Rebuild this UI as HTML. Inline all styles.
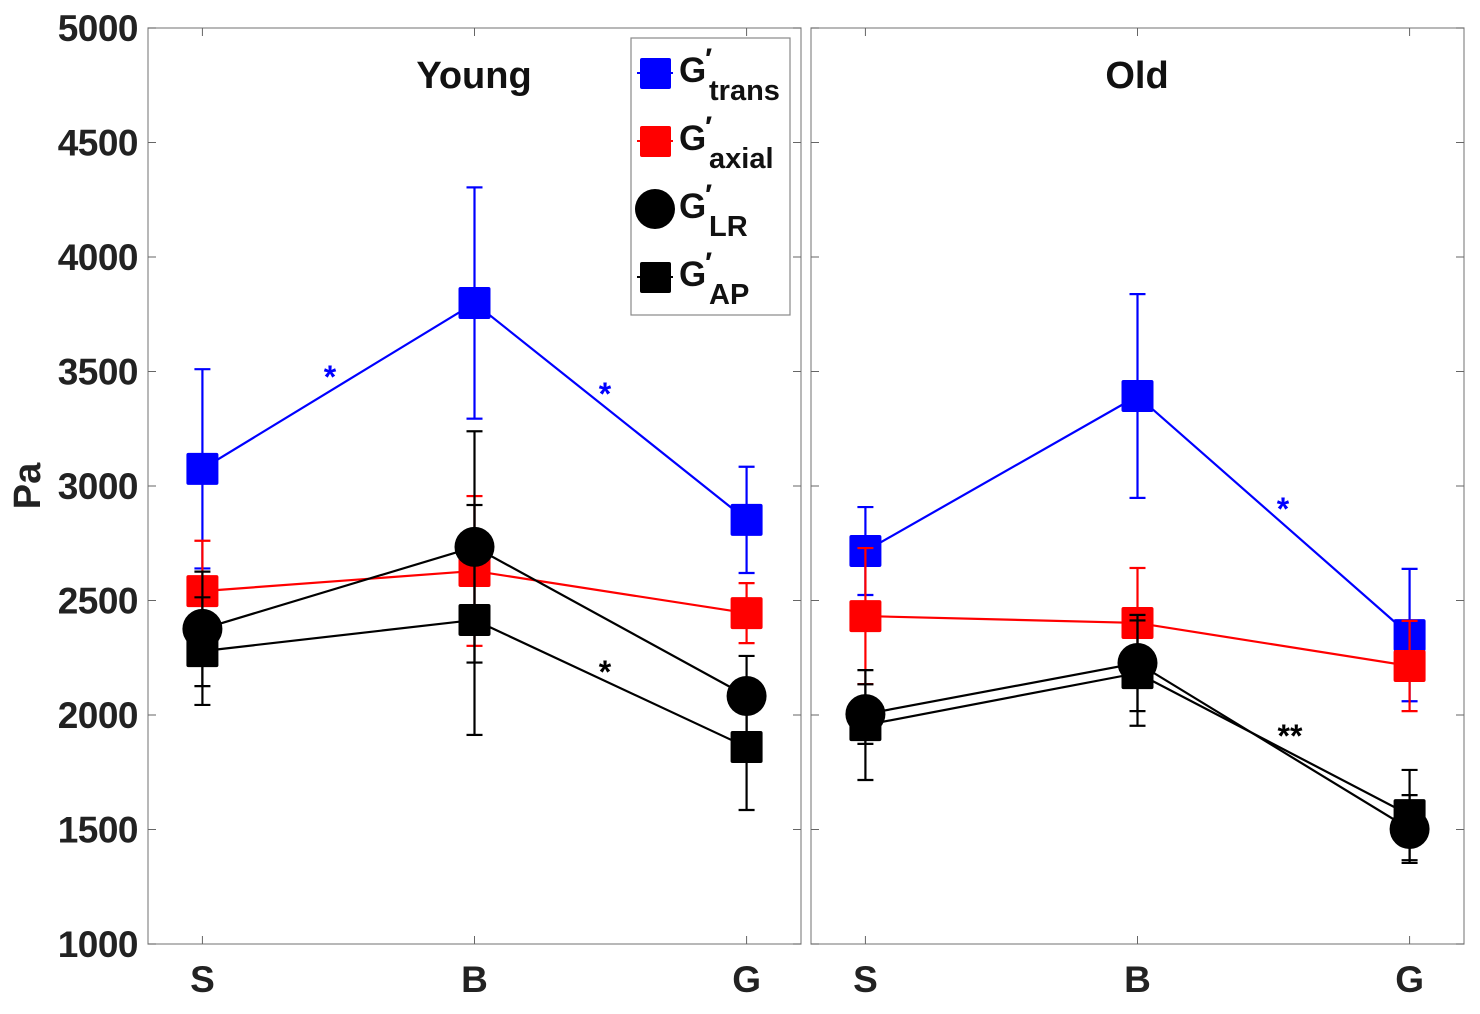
<!DOCTYPE html>
<html><head><meta charset="utf-8"><style>
body{margin:0;background:#fff;}
text{font-family:"Liberation Sans",Arial,sans-serif;font-weight:bold;}
</style></head><body>
<svg id="chart" width="1480" height="1009" xmlns="http://www.w3.org/2000/svg"></svg>
<script>
const categories = ["S","B","G"];
const panels = ["Young","Old"];
const seriesNames = ["trans","axial","LR","AP"];
const youngTrans = [3075, 3799, 2852];
const youngTransErr = [435, 505, 232];
const youngAxial = [2541, 2629, 2445];
const youngAxialErr = [220, 327, 131];
const youngLR = [2376, 2734, 2083];
const youngLRErr = [250, 505, 175];
const youngAP = [2279, 2415, 1860];
const youngAPErr = [235, 502, 275];
const oldTrans = [2716, 3393, 2349];
const oldTransErr = [192, 445, 289];
const oldAxial = [2432, 2402, 2214];
const oldAxialErr = [297, 240, 197];
const oldLR = [2004, 2227, 1502];
const oldLRErr = [130, 210, 148];
const oldAP = [1956, 2183, 1563];
const oldAPErr = [240, 230, 197];
const yTicks = [1000,1500,2000,2500,3000,3500,4000,4500,5000];

const NS="http://www.w3.org/2000/svg";
const svg=document.getElementById('chart');
function mk(tag,attrs,parent){const e=document.createElementNS(NS,tag);for(const k in attrs)e.setAttribute(k,attrs[k]);(parent||svg).appendChild(e);return e;}
const yTop=28,yBot=944;
function yS(v){return yBot-(v-1000)/4000*(yBot-yTop);}
const panelX=[[148,801],[811,1464]];
function xS(p,i){const [a,b]=panelX[p];return a+(i+1-0.8)/2.4*(b-a);}

const data=[[[youngTrans,youngTransErr],[youngAxial,youngAxialErr],[youngLR,youngLRErr],[youngAP,youngAPErr]],
            [[oldTrans,oldTransErr],[oldAxial,oldAxialErr],[oldLR,oldLRErr],[oldAP,oldAPErr]]];
const colors=["#0000ff","#ff0000","#000","#000"];
const shapes=["sq","sq","circ","sq"];

panels.forEach((pn,p)=>{
  const [a,b]=panelX[p];
  const g=mk('g',{});
  
  
  const box=mk('rect',{x:a,y:yTop,width:b-a,height:yBot-yTop,fill:'#fff',stroke:'#888','stroke-width':1.2},g);
  
  
  yTicks.forEach(t=>{
    const y=yS(t);
    mk('line',{x1:a,x2:a+8,y1:y,y2:y,stroke:'#666','stroke-width':1},g);
    mk('line',{x1:b,x2:b-8,y1:y,y2:y,stroke:'#666','stroke-width':1},g);
    if(p===0){const tx=mk('text',{x:138,y:y+13,'text-anchor':'end','font-size':37,fill:'#222','letter-spacing':-0.5},g);tx.textContent=t;
      
      }
  });
  categories.forEach((c,i)=>{
    const x=xS(p,i);
    mk('line',{x1:x,x2:x,y1:yBot,y2:yBot-8,stroke:'#666'},g);
    mk('line',{x1:x,x2:x,y1:yTop,y2:yTop+8,stroke:'#666'},g);
    const tx=mk('text',{x:x,y:992,'text-anchor':'middle','font-size':37,fill:'#222'},g);tx.textContent=c;
    
    
  });
  const tt=mk('text',{x:p===0?474:1137,y:88,'text-anchor':'middle','font-size':38,fill:'#111'},g);tt.textContent=pn;
  
  
  data[p].forEach((s,k)=>{
    const [vals,errs]=s;const col=colors[k];
    const sg=mk('g',{},g);
    
    
    mk('polyline',{points:vals.map((v,i)=>xS(p,i)+','+yS(v)).join(' '),fill:'none',stroke:col,'stroke-width':2.2},sg);
    vals.forEach((v,i)=>{
      const x=xS(p,i),y1=yS(v+errs[i]),y2=yS(v-errs[i]);
      mk('line',{x1:x,x2:x,y1:y1,y2:y2,stroke:col,'stroke-width':2.2},sg);
      mk('line',{x1:x-8,x2:x+8,y1:y1,y2:y1,stroke:col,'stroke-width':2.2},sg);
      mk('line',{x1:x-8,x2:x+8,y1:y2,y2:y2,stroke:col,'stroke-width':2.2},sg);
    });
    vals.forEach((v,i)=>{
      const x=xS(p,i),y=yS(v);let m;
      if(shapes[k]==='circ') m=mk('circle',{cx:x,cy:y,r:20,fill:col},sg);
      else m=mk('rect',{x:x-16,y:y-16,width:32,height:32,rx:2,fill:col},sg);
      
      
    });
  });
});
function star(x,y,s,col){const t=mk('text',{x:x,y:y,'text-anchor':'middle','font-size':32,fill:col});t.textContent=s;
  
  }
star(330,388,'*','#0000ff');star(605,405,'*','#0000ff');star(605,683,'*','#000');
star(1283,520,'*','#0000ff');star(1290,747,'**','#000');

const yl=mk('text',{x:0,y:0,transform:'translate(40,486) rotate(-90)','text-anchor':'middle','font-size':38,fill:'#222'});
yl.textContent='Pa';



const lg=mk('g',{});


mk('rect',{x:631,y:38,width:159,height:277,fill:'#fff',stroke:'#888','stroke-width':1.2},lg);
const subs=["trans","axial","LR","AP"];
subs.forEach((sname,k)=>{
  const y=73+k*68;const col=colors[k];
  const eg=mk('g',{},lg);
  
  
  if(shapes[k]!=='circ'){mk('line',{x1:637,x2:673,y1:y,y2:y,stroke:col,'stroke-width':2},eg);
    mk('rect',{x:640,y:y-15,width:31,height:31,rx:2,fill:col},eg);}
  else mk('circle',{cx:655,cy:y,r:20,fill:col},eg);
  const t=mk('text',{x:679,y:y+9,'font-size':35,fill:'#111'},eg);
  t.textContent='G';
  const pr=mk('text',{x:705,y:y-4,'font-size':30,fill:'#111'},eg);pr.textContent='′';
  const sb=mk('text',{x:709,y:y+27,'font-size':29,fill:'#111'},eg);sb.textContent=sname;
});
</script>
</body></html>
